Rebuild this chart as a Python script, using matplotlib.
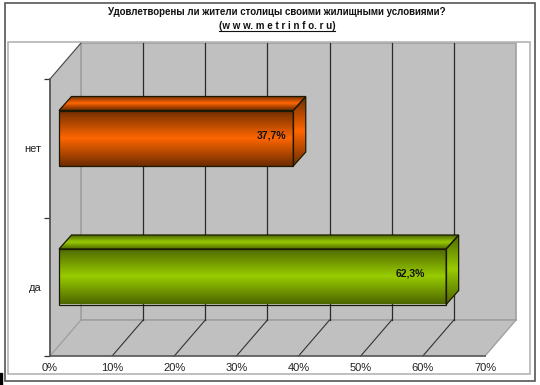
import numpy as np
import matplotlib
matplotlib.use("Agg")
import matplotlib.pyplot as plt
from matplotlib.patches import Polygon, Rectangle
from matplotlib.lines import Line2D
from matplotlib.colors import LinearSegmentedColormap

categories = ["да", "нет"]
values = [62.3, 37.7]
value_labels = ["62,3%", "37,7%"]
x_ticks = [0, 10, 20, 30, 40, 50, 60, 70]
x_tick_labels = ["0%", "10%", "20%", "30%", "40%", "50%", "60%", "70%"]
title_line1 = "Удовлетворены ли жители столицы своими жилищными условиями?"
title_line2 = "(w w w. m e t r i n f o. r u)"

W, H = 540, 385
plt.rcParams['font.family'] = ['Liberation Sans', 'DejaVu Sans']
fig = plt.figure(figsize=(W / 100, H / 100), dpi=100, facecolor="white")

def frame(x0, y0, x1, y1, color, lw):
    fig.add_artist(Rectangle((x0 / W, 1 - y1 / H), (x1 - x0) / W, (y1 - y0) / H,
                             transform=fig.transFigure, fill=False, edgecolor=color, linewidth=lw))

frame(5, 3, 535, 381, "#555555", 1.2)
frame(8, 42, 530, 374, "#b4b4b4", 1.2)
fig.add_artist(Rectangle((0, 0), 2 / W, 12 / H, transform=fig.transFigure, color="black"))

L, R, T, B = 50, 485, 79, 356
ax = fig.add_axes([L / W, 1 - B / H, (R - L) / W, (B - T) / H])
ax.set_xlim(0, 70)
ax.set_ylim(-0.5, 1.5)
ax.patch.set_alpha(0)
ux = 70 / (R - L)
uy = 2 / (B - T)

wall_dx, wall_dy = 31 * ux, 36 * uy
gap_dx, gap_dy = 9 * ux, 10 * uy
bar_dx, bar_dy = 12.5 * ux, 14 * uy
bar_h = 55.5 * uy
WALL = "#c0c0c0"
EDGE = "#a0a0a0"

def poly(pts, z, **kw):
    p = Polygon(pts, closed=True, clip_on=False, zorder=z, **kw)
    ax.add_patch(p)
    return p

xa, xb, ya, yb = 0, 70, -0.5, 1.5
poly([(xa + wall_dx, ya + wall_dy), (xb + wall_dx, ya + wall_dy), (xb + wall_dx, yb + wall_dy), (xa + wall_dx, yb + wall_dy)],
     1, facecolor=WALL, edgecolor=EDGE, linewidth=1.2)
poly([(xa, ya), (xa + wall_dx, ya + wall_dy), (xa + wall_dx, yb + wall_dy), (xa, yb)],
     1, facecolor=WALL, edgecolor="none")
poly([(xa, ya), (xb, ya), (xb + wall_dx, ya + wall_dy), (xa + wall_dx, ya + wall_dy)],
     1, facecolor=WALL, edgecolor="none")

lk = dict(clip_on=False, zorder=2)
ax.plot([xa + wall_dx] * 2, [ya + wall_dy, yb + wall_dy], color=EDGE, lw=1.2, **lk)
ax.plot([xa + wall_dx, xb + wall_dx], [ya + wall_dy] * 2, color=EDGE, lw=1.2, **lk)
ax.plot([xb, xb + wall_dx], [ya, ya + wall_dy], color=EDGE, lw=1.0, **lk)
ax.plot([xa, xa + wall_dx], [ya, ya + wall_dy], color=EDGE, lw=1.0, **lk)
ax.plot([xa, xa + wall_dx], [yb, yb + wall_dy], color="#444444", lw=0.8, **lk)
for v in x_ticks[1:-1]:
    ax.plot([v + wall_dx] * 2, [ya + wall_dy, yb + wall_dy], color="#2a2a2a", lw=0.9, **lk)
    ax.plot([v, v + wall_dx], [ya, ya + wall_dy], color="#333333", lw=0.8, **lk)

def gradient_fill(patch, extent, dark, bright):
    cmap = LinearSegmentedColormap.from_list("g", [dark, bright, dark])
    g = np.linspace(0, 1, 128).reshape(-1, 1)
    im = ax.imshow(g, extent=extent, origin="lower", cmap=cmap, aspect="auto",
                   interpolation="bilinear", zorder=patch.get_zorder(), clip_on=True)
    im.set_clip_path(patch)

palette = [("#4d6600", "#99cc00"), ("#6e2c00", "#ff6600")]
for i, (val, lab) in enumerate(zip(values, value_labels)):
    dark, bright = palette[i]
    x0 = gap_dx
    x1 = gap_dx + val
    yc = i + gap_dy
    y0, y1 = yc - bar_h / 2, yc + bar_h / 2
    top = [(x0, y1), (x1, y1), (x1 + bar_dx, y1 + bar_dy), (x0 + bar_dx, y1 + bar_dy)]
    side = [(x1, y0), (x1 + bar_dx, y0 + bar_dy), (x1 + bar_dx, y1 + bar_dy), (x1, y1)]
    front = [(x0, y0), (x1, y0), (x1, y1), (x0, y1)]
    for pts, ext in ((top, (x0, x1 + bar_dx, y1, y1 + bar_dy)),
                     (side, (x1, x1 + bar_dx, y0, y1 + bar_dy)),
                     (front, (x0, x1, y0, y1))):
        p = poly(pts, 3, facecolor="none", edgecolor="none")
        gradient_fill(p, ext, dark, bright)
        poly(pts, 3.5, facecolor="none", edgecolor="#1a1a00", linewidth=0.9)
    ax.text(x0 + val * 0.907, yc + 2.8 * uy, lab, ha="center", va="center",
            fontsize=7.5, fontweight="bold", color="#111111", zorder=5, clip_on=False)

ax.set_xlim(0, 70)
ax.set_ylim(-0.5, 1.5)

for s in ("top", "right"):
    ax.spines[s].set_visible(False)
ax.spines["left"].set_color("#555555")
ax.spines["left"].set_linewidth(1.3)
ax.spines["bottom"].set_color("#555555")
ax.spines["bottom"].set_linewidth(1.2)
ax.spines["left"].set_zorder(2.5)
ax.spines["bottom"].set_zorder(2.5)

ax.set_xticks(x_ticks)
ax.set_xticklabels(x_tick_labels, fontsize=8, color="#222222")
ax.tick_params(axis="x", length=3, width=0.9, color="#444444", pad=5, direction="in", bottom=False)
ax.set_yticks([-0.5, 0.5, 1.5])
ax.set_yticklabels([])
ax.tick_params(axis="y", which="major", length=4, width=0.9, color="#333333")
ax.set_yticks([0, 1], minor=True)
ax.set_yticklabels(categories, minor=True, fontsize=8, color="#222222")
ax.tick_params(axis="y", which="minor", length=0, pad=6)

title_x = 277 / W
fig.text(title_x, 1 - 12 / H, title_line1, ha="center", va="center", fontsize=7.05, fontweight="bold", color="#111111")
t2 = fig.text(title_x, 1 - 26 / H, title_line2, ha="center", va="center", fontsize=7, fontweight="bold", color="#111111")
fig.canvas.draw()
bb = t2.get_window_extent()
fig.add_artist(Line2D([bb.x0 / W, bb.x1 / W], [1 - 31 / H] * 2, transform=fig.transFigure, color="#111111", lw=0.8))

fig.savefig("out.png", dpi=100)
